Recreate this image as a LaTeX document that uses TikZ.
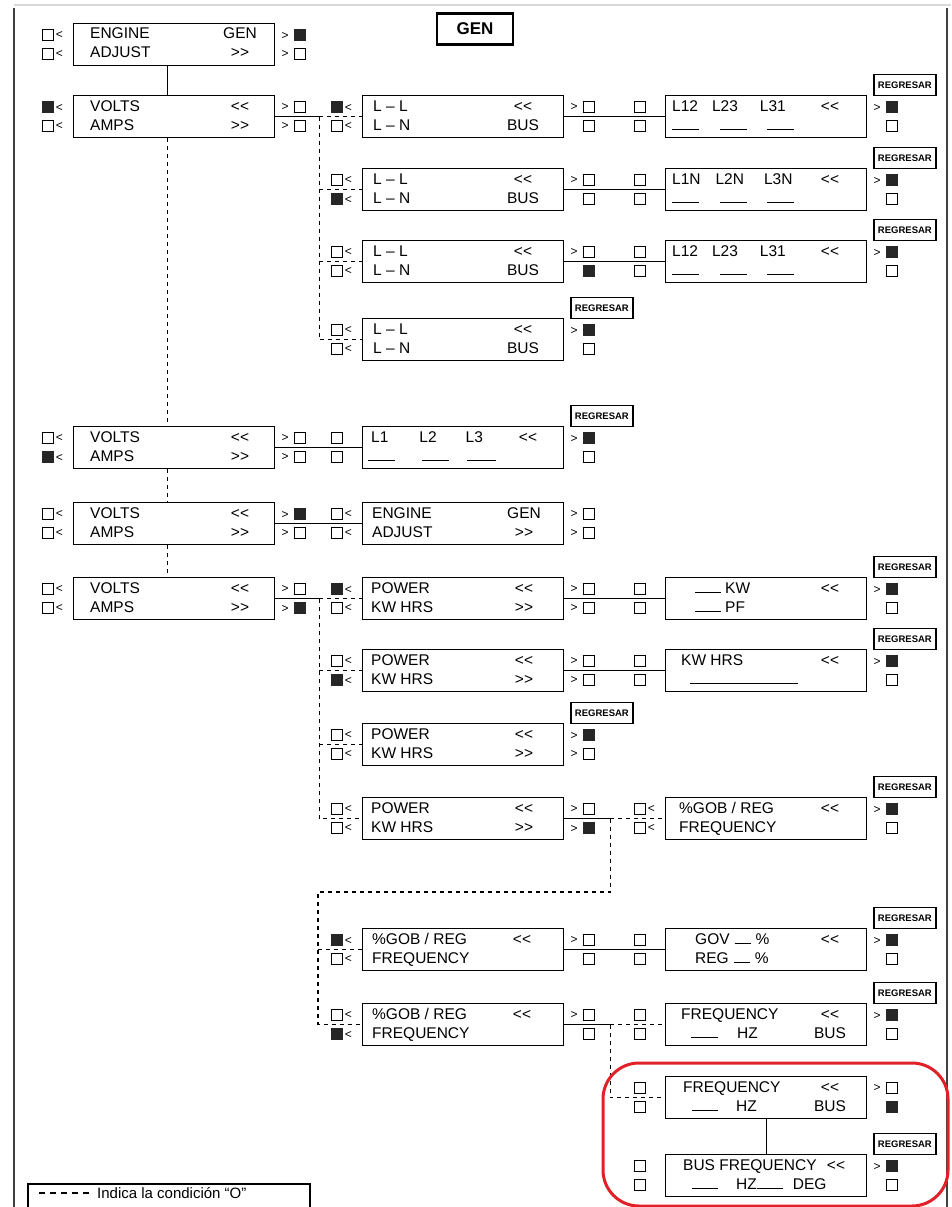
\documentclass[tikz,border=0pt]{standalone}
\usepackage{fontspec}
\setmainfont{Liberation Sans}
\newfontfamily\lcdface{Liberation Sans}
\usetikzlibrary{calc, positioning}
\definecolor{ringred}{RGB}{226,32,40}

\newcommand{\lcdfont}{\lcdface\fontsize{15.5}{17}\selectfont}
\newcommand{\markfont}{\lcdface\fontsize{12}{12}\selectfont}
\newcommand{\blank}[1]{\rule{#1pt}{1.3pt}}
% check boxes beside the screens
\newcommand{\mkoff}{{\setlength{\fboxsep}{0pt}\setlength{\fboxrule}{0.9pt}\fbox{\rule{0pt}{10.2pt}\rule{10.2pt}{0pt}}}}
\newcommand{\mkon}{{\color{black!85}\rule{12pt}{12pt}}}
\newcommand{\lmOff}{\mkoff\kern2pt\raisebox{1.5pt}{<}}
\newcommand{\lmOn}{\mkon\kern2pt\raisebox{1.5pt}{<}}
\newcommand{\lmOffN}{\mkoff\kern2pt\phantom{<}}
\newcommand{\rmOff}{\raisebox{1.5pt}{>}\kern5pt\mkoff}
\newcommand{\rmOn}{\raisebox{1.5pt}{>}\kern5pt\mkon}
\newcommand{\rmOffN}{\phantom{>}\kern5pt\mkoff}
\newcommand{\rmOnN}{\phantom{>}\kern5pt\mkon}

\tikzset{
  screen/.style={draw, line width=1.3pt, minimum width=201pt, minimum height=42pt, inner sep=0pt, anchor=north west},
  lcd/.style={anchor=base west, inner sep=0pt, font=\lcdfont},
  lcdr/.style={anchor=base, inner sep=0pt, font=\lcdfont},
  lmark/.style={anchor=east, inner sep=0pt, font=\markfont},
  rmark/.style={anchor=west, inner sep=0pt, font=\markfont},
  back/.style={draw, line width=1.2pt, minimum width=62pt, minimum height=21pt, inner sep=0pt, anchor=south west, font=\lcdface\fontsize{9.5}{10}\selectfont\bfseries},
  wire/.style={line width=1.3pt},
  alt/.style={line width=1.3pt, dash pattern=on 4pt off 4pt},
}

% screen: name, x, y, top text, top right, bottom text, bottom right
\newcommand{\lcdscreen}[7]{%
  \node[screen] (#1) at (#2,#3) {};
  \node[lcd] (#1-a) at ([xshift=\lx,yshift=-16pt]#1.north west) {#4};
  \node[lcdr] (#1-b) at ([xshift=\rx,yshift=-16pt]#1.north west) {#5};
  \node[lcd] (#1-c) at ([xshift=\lx,yshift=-35pt]#1.north west) {#6};
  \node[lcdr] (#1-d) at ([xshift=\rx,yshift=-35pt]#1.north west) {#7};
}
% keys beside a screen
\newcommand{\setmarks}[5]{%
  \node[lmark] (#1-lt) at ([xshift=-10pt,yshift=-12pt]#1.north west) {#2};
  \node[lmark] (#1-lb) at ([xshift=-10pt,yshift=-31pt]#1.north west) {#3};
  \node[rmark] (#1-rt) at ([xshift=6pt,yshift=-12pt]#1.north east) {#4};
  \node[rmark] (#1-rb) at ([xshift=6pt,yshift=-31pt]#1.north east) {#5};
}

\begin{document}
\begin{tikzpicture}[x=1pt, y=-1pt]
\useasboundingbox (0,0) rectangle (951,1207);

% page frame
\draw[black!15, line width=2pt] (14,5) -- (951,5);
\draw[black!75, line width=2pt] (14,8) -- (14,1207);
\draw[black!75, line width=2pt] (947,8) -- (947,1207);

\node[draw, line width=2.5pt, minimum width=76pt, minimum height=31pt, inner sep=0pt,
      font=\lcdface\fontsize{17}{19}\selectfont\bfseries] (title) at (475,29) {GEN};

% left column
\def\lx{17pt}\def\rx{167pt}
\lcdscreen{a1}{73}{23}{ENGINE}{GEN}{ADJUST}{>>}
\lcdscreen{a2}{73}{95}{VOLTS}{<<}{AMPS}{>>}
\lcdscreen{a3}{73}{426}{VOLTS}{<<}{AMPS}{>>}
\lcdscreen{a4}{73}{502}{VOLTS}{<<}{AMPS}{>>}
\lcdscreen{a5}{73}{577}{VOLTS}{<<}{AMPS}{>>}

% middle column
\def\lx{11pt}\def\rx{161pt}
\lcdscreen{b1}{362}{95}{L – L}{<<}{L – N}{BUS}
\lcdscreen{b2}{362}{168}{L – L}{<<}{L – N}{BUS}
\lcdscreen{b3}{362}{240}{L – L}{<<}{L – N}{BUS}
\lcdscreen{b4}{362}{318}{L – L}{<<}{L – N}{BUS}
\def\lx{9pt}\def\rx{166pt}
\lcdscreen{b5}{362}{426}{L1\hspace{31pt}L2\hspace{29pt}L3}{<<}{\kern-3pt\blank{27}\hspace{27pt}\blank{27}\hspace{18pt}\blank{29}}{}
\def\lx{10pt}\def\rx{162pt}
\lcdscreen{b6}{362}{502}{ENGINE}{GEN}{ADJUST}{>>}
\def\lx{9pt}
\lcdscreen{b7}{362}{577}{POWER}{<<}{KW HRS}{>>}
\lcdscreen{b8}{362}{649}{POWER}{<<}{KW HRS}{>>}
\lcdscreen{b9}{362}{723}{POWER}{<<}{KW HRS}{>>}
\lcdscreen{b10}{362}{797}{POWER}{<<}{KW HRS}{>>}
\def\lx{10pt}\def\rx{160pt}
\lcdscreen{b11}{362}{928}{\%GOB / REG}{<<}{FREQUENCY}{}
\lcdscreen{b12}{362}{1003}{\%GOB / REG}{<<}{FREQUENCY}{}

% right column
\def\lx{7pt}\def\rx{165pt}
\lcdscreen{c1}{665}{95}{L12\hspace{14pt}L23\hspace{22pt}L31}{<<}{\blank{27}\hspace{21pt}\blank{27}\hspace{20pt}\blank{27}}{}
\lcdscreen{c2}{665}{168}{L1N\hspace{15pt}L2N\hspace{20pt}L3N}{<<}{\blank{27}\hspace{21pt}\blank{27}\hspace{20pt}\blank{27}}{}
\lcdscreen{c3}{665}{240}{L12\hspace{14pt}L23\hspace{22pt}L31}{<<}{\blank{27}\hspace{21pt}\blank{27}\hspace{20pt}\blank{27}}{}
\def\lx{30pt}
\lcdscreen{c4}{665}{577}{\blank{26}\hspace{4pt}KW}{<<}{\blank{26}\hspace{4pt}PF}{}
\def\lx{16pt}
\lcdscreen{c5}{665}{649}{KW HRS}{<<}{\kern9pt\blank{108}}{}
\def\lx{14pt}
\lcdscreen{c6}{665}{797}{\%GOB / REG}{<<}{FREQUENCY}{}
\def\lx{30pt}
\lcdscreen{c7}{665}{928}{GOV\hspace{5pt}\blank{16}\hspace{5pt}\%}{<<}{REG\hspace{5pt}\blank{16}\hspace{5pt}\%}{}
\def\lx{16pt}
\lcdscreen{c8}{665}{1003}{FREQUENCY}{<<}{\kern10pt\blank{27}\hspace{19pt}HZ}{BUS}
\def\lx{18pt}
\lcdscreen{c9}{665}{1076}{FREQUENCY}{<<}{\kern9pt\blank{26}\hspace{18pt}HZ}{BUS}
\def\rx{171pt}
\lcdscreen{c10}{665}{1154}{BUS FREQUENCY}{<<}{\kern9pt\blank{26}\hspace{18pt}HZ\blank{26}\hspace{10pt}DEG}{}

% keys
\foreach \n/\ma/\mb/\mc/\md in {
  a1/\lmOff/\lmOff/\rmOn/\rmOff, a2/\lmOn/\lmOff/\rmOff/\rmOff,
  a3/\lmOff/\lmOn/\rmOff/\rmOff, a4/\lmOff/\lmOff/\rmOn/\rmOff,
  a5/\lmOff/\lmOff/\rmOff/\rmOn,
  b1/\lmOn/\lmOff/\rmOff/\rmOffN, b2/\lmOff/\lmOn/\rmOff/\rmOffN,
  b3/\lmOff/\lmOff/\rmOff/\rmOnN, b4/\lmOff/\lmOff/\rmOn/\rmOffN,
  b5/\lmOffN/\lmOffN/\rmOn/\rmOffN, b6/\lmOff/\lmOff/\rmOff/\rmOff,
  b7/\lmOn/\lmOff/\rmOff/\rmOff, b8/\lmOff/\lmOn/\rmOff/\rmOff,
  b9/\lmOff/\lmOff/\rmOn/\rmOff, b10/\lmOff/\lmOff/\rmOff/\rmOn,
  b11/\lmOn/\lmOff/\rmOff/\rmOffN, b12/\lmOff/\lmOn/\rmOff/\rmOffN,
  c1/\lmOffN/\lmOffN/\rmOn/\rmOffN, c2/\lmOffN/\lmOffN/\rmOn/\rmOffN,
  c3/\lmOffN/\lmOffN/\rmOn/\rmOffN, c4/\lmOffN/\lmOffN/\rmOn/\rmOffN,
  c5/\lmOffN/\lmOffN/\rmOn/\rmOffN, c6/\lmOff/\lmOff/\rmOn/\rmOffN,
  c7/\lmOffN/\lmOffN/\rmOn/\rmOffN, c8/\lmOffN/\lmOffN/\rmOn/\rmOffN,
  c9/\lmOffN/\lmOffN/\rmOff/\rmOnN, c10/\lmOffN/\lmOffN/\rmOn/\rmOffN}
  \setmarks{\n}{\ma}{\mb}{\mc}{\md};

\foreach \n in {c1,c2,c3,b4,b5,c4,c5,b9,c6,c7,c8,c10}
  \node[back] (\n-back) at ([xshift=6pt,yshift=-1pt]\n.north east) {REGRESAR};

% left column links
\draw[wire] ([xshift=-6.5pt]a1.south) -- ([xshift=-6.5pt]a2.north);
\draw[alt] ([xshift=-6.5pt]a2.south) -- ([xshift=-6.5pt]a3.north);
\draw[alt] ([xshift=-6.5pt]a3.south) -- ([xshift=-6.5pt]a4.north);
\draw[alt] ([xshift=-6.5pt]a4.south) -- ([xshift=-6.5pt]a5.north);

% volts branch
\draw[wire] (a2.east) -- ++(44,0) coordinate (va);
\draw[alt] (va) -- (b1.west);
\draw[alt] (va) |- (b4.west);
\draw[alt] (va |- b2.west) -- (b2.west);
\draw[alt] (va |- b3.west) -- (b3.west);

\foreach \s/\t in {b1/c1, b2/c2, b3/c3, a3/b5, a4/b6, b7/c4, b8/c5, b11/c7}
  \draw[wire] (\s.east) -- (\t.west);

% power branch
\draw[wire] (a5.east) -- ++(44,0) coordinate (pa);
\draw[alt] (pa) -- (b7.west);
\draw[alt] (pa) |- (b10.west);
\draw[alt] (pa |- b8.west) -- (b8.west);
\draw[alt] (pa |- b9.west) -- (b9.west);

% frequency branch
\draw[wire] (b10.east) -- ++(46,0) coordinate (fa);
\draw[alt] (fa) -- (c6.west);
\coordinate (fb) at (318,892);
\draw[alt] (fa) |- (fb) -- (fb |- b12.west) -- (b12.west);
\draw[alt] (fb |- b11.west) -- (b11.west);

\draw[wire] (b12.east) -- ++(46,0) coordinate (fc);
\draw[alt] (fc) -- (c8.west);
\draw[alt] (fc) |- (c9.west);
\draw[wire] (c9.south) -- (c10.north);

% highlight
\draw[ringred, line width=3pt, rounded corners=36pt] (603,1063) rectangle (948,1206);

% legend
\draw[line width=1.1pt] (28,1184) rectangle (310,1230);
\node[anchor=west, inner sep=0pt, font=\lcdface\fontsize{15}{17}\selectfont] (legend) at (97,1193) {Indica la condición “O”};
\draw[line width=1.2pt, dash pattern=on 6pt off 5pt] ([xshift=-8pt]legend.west) -- ++(-50,0);
\end{tikzpicture}
\end{document}
